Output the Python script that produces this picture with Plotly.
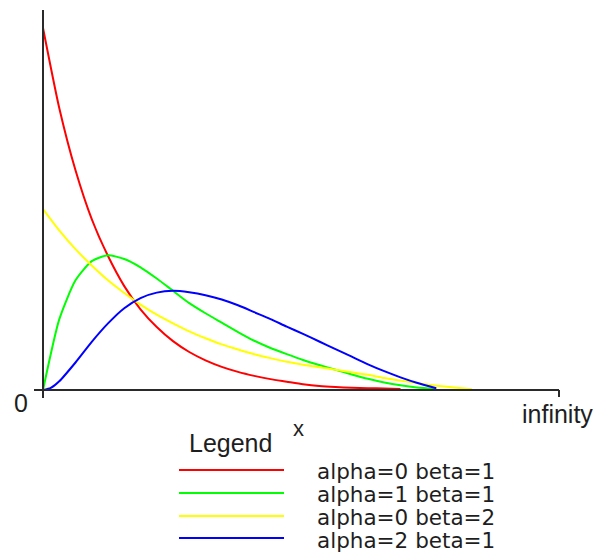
import plotly.graph_objects as go

# ---- data ----
x_red = [0, 0.25, 0.5, 0.75, 1, 1.25, 1.5, 1.75, 2, 2.25, 2.5, 2.75, 3, 3.25, 3.5, 3.75, 4, 4.25, 4.5, 4.75, 5, 5.25, 5.5]
y_red = [1.0, 0.779, 0.607, 0.472, 0.370, 0.287, 0.223, 0.174, 0.135, 0.105, 0.082, 0.064, 0.050, 0.039, 0.030, 0.023, 0.016, 0.011, 0.008, 0.006, 0.005, 0.004, 0.003]

x_green = [0, 0.25, 0.5, 0.75, 1, 1.25, 1.5, 1.75, 2, 2.25, 2.5, 2.75, 3, 3.25, 3.5, 3.75, 4, 4.25, 4.5, 4.75, 5, 5.25, 5.5, 5.75, 6.05]
y_green = [0.0, 0.195, 0.303, 0.356, 0.372, 0.362, 0.339, 0.308, 0.274, 0.240, 0.212, 0.186, 0.160, 0.136, 0.116, 0.099, 0.083, 0.069, 0.056, 0.043, 0.031, 0.021, 0.013, 0.007, 0.003]

x_yellow = [0, 0.25, 0.5, 0.75, 1, 1.25, 1.5, 1.75, 2, 2.25, 2.5, 2.75, 3, 3.25, 3.5, 3.75, 4, 4.25, 4.5, 4.75, 5, 5.25, 5.5, 5.75, 6, 6.25, 6.6]
y_yellow = [0.5, 0.441, 0.389, 0.344, 0.303, 0.268, 0.236, 0.208, 0.184, 0.162, 0.143, 0.126, 0.112, 0.099, 0.088, 0.078, 0.070, 0.063, 0.056, 0.049, 0.042, 0.033, 0.026, 0.019, 0.013, 0.008, 0.002]

x_blue = [0, 0.12, 0.25, 0.5, 0.75, 1, 1.25, 1.5, 1.75, 2, 2.25, 2.5, 2.75, 3, 3.25, 3.5, 3.75, 4, 4.25, 4.5, 4.75, 5, 5.25, 5.5, 5.75, 6.05]
y_blue = [0.0, 0.006, 0.024, 0.076, 0.133, 0.184, 0.226, 0.254, 0.269, 0.274, 0.270, 0.262, 0.250, 0.234, 0.215, 0.196, 0.175, 0.155, 0.134, 0.113, 0.092, 0.071, 0.052, 0.035, 0.020, 0.005]

series_names = ["alpha=0 beta=1", "alpha=1 beta=1", "alpha=0 beta=2", "alpha=2 beta=1"]
series_colors = ["#ff0000", "#00ff00", "#ffff00", "#0000ff"]

# ---- layout geometry (pixels) ----
W, H = 597, 552
L, R, T, B = 43, 559, 10, 390  # plot-area edges in pixels
X_MAX = (R - L) / 65.0
Y_MAX = (B - T) / 362.0


def px(xp):
    return (xp - L) / (R - L)


def py(yp):
    return (B - yp) / (B - T)


fig = go.Figure()
for xs, ys, name, col in zip([x_red, x_green, x_yellow, x_blue],
                             [y_red, y_green, y_yellow, y_blue],
                             series_names, series_colors):
    fig.add_trace(go.Scatter(x=xs, y=ys, mode="lines", name=name,
                             line=dict(color=col, width=2, shape="spline", smoothing=0.6),
                             showlegend=False, hoverinfo="skip"))

axis_col = "#2a2a2a"
shapes = [
    # y axis
    dict(type="line", xref="paper", yref="paper", x0=px(43), x1=px(43), y0=py(10), y1=py(398),
         line=dict(color=axis_col, width=2)),
    # x axis
    dict(type="line", xref="paper", yref="paper", x0=px(34), x1=px(559), y0=py(390), y1=py(390),
         line=dict(color=axis_col, width=2)),
    # end tick at infinity
    dict(type="line", xref="paper", yref="paper", x0=px(559), x1=px(559), y0=py(390), y1=py(397),
         line=dict(color=axis_col, width=2)),
]
legend_lines = [470, 493, 516, 538]
legend_text = [470, 493, 516, 539.5]
for yy, col in zip(legend_lines, series_colors):
    shapes.append(dict(type="line", xref="paper", yref="paper", x0=px(179), x1=px(284),
                       y0=py(yy), y1=py(yy), line=dict(color=col, width=2)))

font_family = "Liberation Sans, Arial, sans-serif"
txt = "#1e1e1e"
annotations = [
    dict(text="0", x=px(21), y=py(403), xanchor="center", yanchor="middle"),
    dict(text="infinity", x=px(557), y=py(414), xanchor="center", yanchor="middle"),
    dict(text="x", x=px(298), y=py(428), xanchor="center", yanchor="middle", size=22),
    dict(text="Legend", x=px(230), y=py(443), xanchor="center", yanchor="middle"),
]
for yy, name in zip(legend_text, series_names):
    annotations.append(dict(text=name, x=px(315), y=py(yy + 1), xanchor="left", yanchor="middle",
                            size=21.5, family="DejaVu Sans, Liberation Sans, sans-serif"))

ann_out = []
for a in annotations:
    size = a.pop("size", 25)
    fam = a.pop("family", font_family)
    a.update(xref="paper", yref="paper", showarrow=False,
             font=dict(family=fam, size=size, color=txt))
    ann_out.append(a)

fig.update_layout(
    width=W, height=H,
    margin=dict(l=L, r=W - R, t=T, b=H - B, pad=0),
    paper_bgcolor="white", plot_bgcolor="white",
    xaxis=dict(range=[0, X_MAX], visible=False, fixedrange=True),
    yaxis=dict(range=[0, Y_MAX], visible=False, fixedrange=True),
    shapes=shapes,
    annotations=ann_out,
    showlegend=False,
)

fig.write_html("out.html")
